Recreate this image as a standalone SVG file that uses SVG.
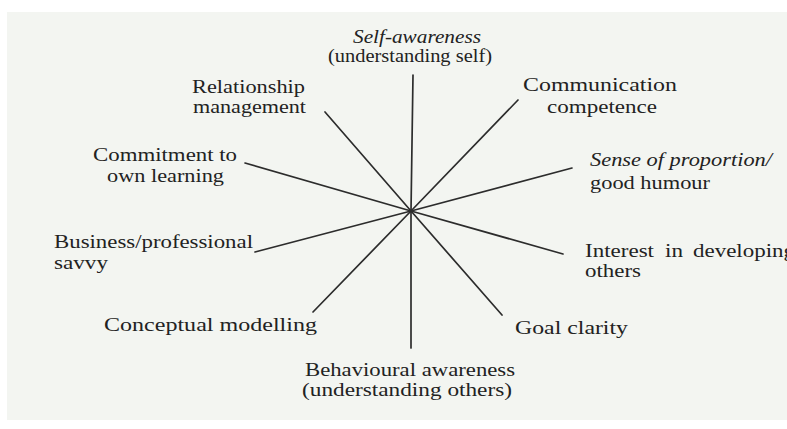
<svg xmlns="http://www.w3.org/2000/svg" width="787" height="429" viewBox="0 0 787 429">
<style>
text{font-family:"Liberation Serif","Times New Roman",serif;font-size:18.5px;fill:#222222}
.it{font-style:italic}
.spoke{stroke:#2c2c2c;stroke-width:1.7;stroke-linecap:round;fill:none}
</style>
<rect x="0" y="0" width="787" height="429" fill="#ffffff"/>
<rect x="7" y="12" width="780" height="408" fill="#f3f5f1"/>
<g id="connectors">
<line class="spoke" x1="411" y1="211" x2="413" y2="75"/>
<line class="spoke" x1="411" y1="211" x2="518" y2="100"/>
<line class="spoke" x1="411" y1="211" x2="572" y2="168"/>
<line class="spoke" x1="411" y1="211" x2="563" y2="254"/>
<line class="spoke" x1="411" y1="211" x2="502" y2="315"/>
<line class="spoke" x1="411" y1="211" x2="411" y2="348"/>
<line class="spoke" x1="411" y1="211" x2="313" y2="312"/>
<line class="spoke" x1="411" y1="211" x2="255" y2="252"/>
<line class="spoke" x1="411" y1="211" x2="245" y2="163"/>
<line class="spoke" x1="411" y1="211" x2="325" y2="112"/>
</g>
<g id="self-awareness">
<text class="it" x="353" y="43" textLength="128" lengthAdjust="spacingAndGlyphs">Self-awareness</text>
<text x="328" y="62" textLength="164" lengthAdjust="spacingAndGlyphs">(understanding self)</text>
</g>
<g id="communication">
<text x="523" y="91" textLength="154" lengthAdjust="spacingAndGlyphs">Communication</text>
<text x="547" y="113" textLength="110" lengthAdjust="spacingAndGlyphs">competence</text>
</g>
<g id="sense-of-proportion">
<text class="it" x="590" y="166" textLength="182" lengthAdjust="spacingAndGlyphs">Sense of proportion/</text>
<text x="590" y="189" textLength="120" lengthAdjust="spacingAndGlyphs">good humour</text>
</g>
<g id="interest-in-developing">
<text y="257"><tspan x="585" textLength="69" lengthAdjust="spacingAndGlyphs">Interest</tspan> <tspan x="665" textLength="18" lengthAdjust="spacingAndGlyphs">in</tspan> <tspan x="693" textLength="102" lengthAdjust="spacingAndGlyphs">developing</tspan></text>
<text x="585" y="277" textLength="56" lengthAdjust="spacingAndGlyphs">others</text>
</g>
<g id="goal-clarity">
<text x="515" y="334" textLength="113" lengthAdjust="spacingAndGlyphs">Goal clarity</text>
</g>
<g id="behavioural-awareness">
<text x="305" y="376" textLength="210" lengthAdjust="spacingAndGlyphs">Behavioural awareness</text>
<text x="302" y="396" textLength="210" lengthAdjust="spacingAndGlyphs">(understanding others)</text>
</g>
<g id="conceptual-modelling">
<text x="104" y="331" textLength="213" lengthAdjust="spacingAndGlyphs">Conceptual modelling</text>
</g>
<g id="business-savvy">
<text x="54" y="248" textLength="199" lengthAdjust="spacingAndGlyphs">Business/professional</text>
<text x="54" y="269" textLength="54" lengthAdjust="spacingAndGlyphs">savvy</text>
</g>
<g id="commitment">
<text x="93" y="161" textLength="144" lengthAdjust="spacingAndGlyphs">Commitment to</text>
<text x="107" y="182" textLength="117" lengthAdjust="spacingAndGlyphs">own learning</text>
</g>
<g id="relationship">
<text x="192" y="93" textLength="113" lengthAdjust="spacingAndGlyphs">Relationship</text>
<text x="193" y="113" textLength="113" lengthAdjust="spacingAndGlyphs">management</text>
</g>
</svg>
